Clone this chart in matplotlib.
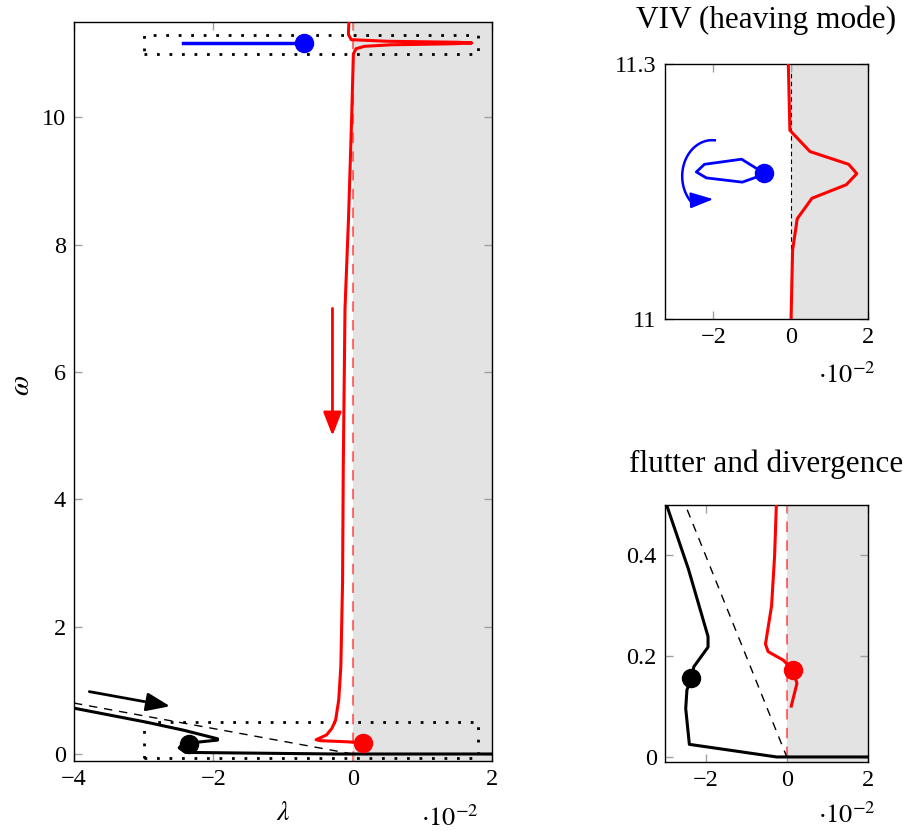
import numpy as np
import matplotlib
matplotlib.use('Agg')
import matplotlib.pyplot as plt
from matplotlib.patches import Rectangle

plt.rcParams['font.family'] = ['Liberation Serif', 'DejaVu Serif']
plt.rcParams['mathtext.fontset'] = 'stix'
plt.rcParams['axes.unicode_minus'] = True

# ---- data (lambda in units of 1e-2, omega) ----
red_lam = [-0.05, -0.06, -0.06, -0.02, 0.50, 1.50, 1.71, 1.44, 0.55, 0.17, 0.05, 0.01,
           -0.015, -0.06, -0.11, -0.135, -0.145, -0.17, -0.20, -0.245, -0.30, -0.375,
           -0.525, -0.46, -0.085, 0.15, 0.25, 0.11]
red_omega = [11.6, 11.35, 11.3, 11.222, 11.197, 11.182, 11.171, 11.158, 11.142, 11.118, 11.081, 11.0,
             9.97, 8.4, 7.0, 4.5, 2.7, 1.37, 0.85, 0.53, 0.40, 0.30,
             0.224, 0.209, 0.192, 0.172, 0.146, 0.101]

black_lam = [-4.0, -2.96, -2.42, -1.94, -1.94, -2.29, -2.35, -2.46, -2.49, -2.40, -0.25, 2.0]
black_omega = [0.72, 0.50, 0.372, 0.239, 0.218, 0.179, 0.156, 0.133, 0.096, 0.025, 0.0, 0.0]

blue_lam = [-0.70, -1.27, -2.23, -2.44, -2.18, -1.25, -0.88, -0.70]
blue_omega = [11.172, 11.188, 11.182, 11.173, 11.166, 11.161, 11.167, 11.172]

ref_lam = [-4.0, 0.0]
ref_omega = [0.8, 0.0]

dot_lam = {'blue': -0.70, 'black': -2.35, 'red': 0.15}
dot_omega = {'blue': 11.172, 'black': 0.156, 'red': 0.172}

main_xticks = [-4, -2, 0, 2]
main_yticks = [0, 2, 4, 6, 8, 10]
viv_xticks = [-2, 0, 2]
viv_yticks = [11, 11.3]
viv_yticklabels = ['11', '11.3']
flut_xticks = [-2, 0, 2]
flut_yticks = [0, 0.2, 0.4]
flut_yticklabels = ['0', '0.2', '0.4']

# rotation-arrow annotation in VIV inset (ellipse arc, then head)
rot_center = (-2.03, 11.168)
rot_radius = (0.775, 0.0424)
rot_angles = (85, 222)
rot_tip = (-2.0, 11.141)

W, H = 912, 831
fig = plt.figure(figsize=(W / 100, H / 100), dpi=100)

TICK_FS = 17.5
OFF_FS = 19
TITLE_FS = 22.5


def px_axes(l, r, t, b):
    return fig.add_axes([l / W, 1 - b / H, (r - l) / W, (b - t) / H])


def style(ax):
    ax.tick_params(direction='in', top=True, right=True, length=6, width=1,
                   color='#a0a0a0', labelcolor='black', labelsize=TICK_FS, pad=6)
    for s in ax.spines.values():
        s.set_linewidth(1.0)
        s.set_color('black')


def draw_common(ax):
    ax.axvspan(0, 10, color='#e3e3e3', zorder=0, lw=0)


RED = '#ff0000'
BLUE = '#0000ff'
HEAD = '-|>,head_length=0.9,head_width=0.35'

# ---- main axes ----
ax = px_axes(74, 492, 22, 761)
draw_common(ax)
ax.plot([0, 0], [-1, 12], color=RED, alpha=0.55, lw=1.5, dashes=(5, 4), zorder=1)
ax.plot(ref_lam, ref_omega, color='black', lw=1.0, dashes=(6, 5), zorder=2)
ax.add_patch(Rectangle((-3.0, 11.0), 4.8, 0.3, fill=False, ls=(0, (1, 3.5)), lw=2,
                       ec='black', zorder=3))
ax.add_patch(Rectangle((-3.0, -0.07), 4.8, 0.57, fill=False, ls=(0, (1, 3.5)), lw=2,
                       ec='black', zorder=3))
ax.plot(red_lam, red_omega, color=RED, lw=2.2, zorder=4)
ax.plot(black_lam, black_omega, color='black', lw=2.2, zorder=4)
ax.plot([min(blue_lam), dot_lam['blue']], [dot_omega['blue']] * 2, color=BLUE, lw=2.5, zorder=4)
for c, col in [('blue', BLUE), ('black', 'black'), ('red', RED)]:
    ax.plot(dot_lam[c], dot_omega[c], 'o', color=col, ms=13, zorder=5)
ax.annotate('', xy=(-2.62, 0.75), xytext=(-3.78, 0.98),
            arrowprops=dict(arrowstyle=HEAD, lw=2, color='black', mutation_scale=16,
                            shrinkA=0, shrinkB=0), zorder=6)
ax.annotate('', xy=(-0.29, 5.0), xytext=(-0.29, 7.0),
            arrowprops=dict(arrowstyle=HEAD, lw=2, color=RED, mutation_scale=16,
                            shrinkA=0, shrinkB=0), zorder=6)
ax.set_xlim(-4, 2)
ax.set_ylim(-0.11, 11.5)
ax.set_xticks(main_xticks)
ax.set_yticks(main_yticks)
style(ax)
fig.text(283 / W, 1 - 813 / H, r'$\lambda$', fontsize=20, ha='center', va='center')
fig.text(22 / W, 1 - 385 / H, r'$\omega$', fontsize=21, ha='center', va='center', rotation=90)
fig.text(450 / W, 1 - 826 / H, r'$\cdot 10^{-2}$', fontsize=OFF_FS, ha='center', va='baseline')

# ---- VIV inset ----
ax1 = px_axes(665, 868, 64, 319)
draw_common(ax1)
ax1.plot([0, 0], [11, 11.3], color='black', lw=0.8, dashes=(4, 3), zorder=1)
ax1.plot(red_lam, red_omega, color=RED, lw=2.2, zorder=4)
ax1.plot(blue_lam, blue_omega, color=BLUE, lw=2.0, zorder=4)
ax1.plot(dot_lam['blue'], dot_omega['blue'], 'o', color=BLUE, ms=13, zorder=5)
th = np.radians(np.linspace(rot_angles[0], rot_angles[1], 60))
arc_x = rot_center[0] + rot_radius[0] * np.cos(th)
arc_y = rot_center[1] + rot_radius[1] * np.sin(th)
ax1.plot(arc_x, arc_y, color=BLUE, lw=1.8, zorder=5)
ax1.annotate('', xy=rot_tip, xytext=(arc_x[-1], arc_y[-1]),
             arrowprops=dict(arrowstyle='-|>,head_length=1.0,head_width=0.35', lw=1.5,
                             color=BLUE, mutation_scale=14, shrinkA=0, shrinkB=0), zorder=6)
ax1.set_xlim(-3.25, 2)
ax1.set_ylim(11, 11.3)
ax1.set_xticks(viv_xticks)
ax1.set_yticks(viv_yticks)
ax1.set_yticklabels(viv_yticklabels)
style(ax1)
fig.text(766 / W, 1 - 28 / H, 'VIV (heaving mode)', fontsize=TITLE_FS, ha='center', va='baseline')
fig.text(847 / W, 1 - 383 / H, r'$\cdot 10^{-2}$', fontsize=OFF_FS, ha='center', va='baseline')

# ---- flutter inset ----
ax2 = px_axes(665, 868, 505, 762)
draw_common(ax2)
ax2.plot([0, 0], [-1, 1], color=RED, alpha=0.55, lw=1.5, dashes=(5, 4), zorder=1)
ax2.plot(ref_lam, ref_omega, color='black', lw=1.0, dashes=(6, 5), zorder=2)
ax2.plot(red_lam, red_omega, color=RED, lw=2.2, zorder=4)
ax2.plot(black_lam, black_omega, color='black', lw=2.2, zorder=4)
for c, col in [('black', 'black'), ('red', RED)]:
    ax2.plot(dot_lam[c], dot_omega[c], 'o', color=col, ms=13, zorder=5)
ax2.set_xlim(-3.0, 2)
ax2.set_ylim(-0.01, 0.5)
ax2.set_xticks(flut_xticks)
ax2.set_yticks(flut_yticks)
ax2.set_yticklabels(flut_yticklabels)
style(ax2)
fig.text(766 / W, 1 - 472 / H, 'flutter and divergence', fontsize=TITLE_FS, ha='center', va='baseline')
fig.text(847 / W, 1 - 823 / H, r'$\cdot 10^{-2}$', fontsize=OFF_FS, ha='center', va='baseline')

fig.savefig('out.png', dpi=100)
